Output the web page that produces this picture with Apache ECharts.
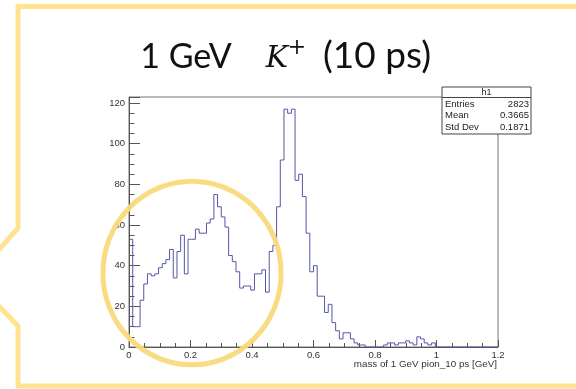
<!DOCTYPE html>
<html>
<head>
<meta charset="utf-8">
<script src="https://cdn.jsdelivr.net/npm/echarts@6/dist/echarts.min.js"></script>
<style>
html,body{margin:0;padding:0;background:#fff;}
#c{width:576px;height:389px;}
</style>
</head>
<body>
<div id="c"></div>
<script>
// ---- data ----
const binLow = 0;
const binWidth = 0.012;
const counts = [
  53, 10, 10, 23, 31, 36, 35, 36, 39, 41,
  43, 48, 34, 47, 55, 36, 53, 53, 58, 56,
  56, 61, 63, 75, 69, 64, 59, 45, 42, 37,
  29, 30, 30, 28, 36, 36, 38, 27, 47, 50,
  69, 92, 117, 115, 117, 82, 85, 74, 56, 37,
  40, 25, 25, 17, 21, 12, 8, 4, 7, 7,
  4, 2, 1, 1, 0, 0, 0, 0, 0, 1,
  2, 2, 1, 2, 2, 3, 2, 1, 5, 4,
  2, 1, 2, 0, 0, 0, 0, 0, 0, 0,
  0, 0, 0, 0, 0, 0, 0, 0, 0, 0
];
const xTicks = [0, 0.2, 0.4, 0.6, 0.8, 1, 1.2];
const yTicks = [0, 20, 40, 60, 80, 100, 120];
const statsLabels = ['Entries', 'Mean', 'Std Dev'];
const statsValues = ['2823', '0.3665', '0.1871'];
const histName = 'h1';
const xTitle = 'mass of 1 GeV pion_10 ps [GeV]';
const titleParts = ['1 GeV', 'K', '+', '(10 ps)'];

// ---- chart ----
const histData = counts.map((c, i) => [binLow + i * binWidth, c]);
histData.push([binLow + counts.length * binWidth, counts[counts.length - 1]]);

const chart = echarts.init(document.getElementById('c'), null, {renderer: 'canvas'});
const axisFont = 'Liberation Sans, Arial, sans-serif';
const yellowFrame = '#FFE391';
const yellowCircle = '#F9D97A';

const statsGraphics = [];
const bx = 442, by = 87, bw = 89, bh = 47;
statsGraphics.push({type: 'rect', shape: {x: bx, y: by, width: bw, height: bh},
  style: {fill: '#fff', stroke: '#444', lineWidth: 1}, z: 50});
statsGraphics.push({type: 'line', shape: {x1: bx, y1: by + 10.5, x2: bx + bw, y2: by + 10.5},
  style: {stroke: '#444', lineWidth: 1}, z: 51});
statsGraphics.push({type: 'text', x: bx + bw / 2, y: by + 5.5, z: 52,
  style: {text: histName, font: '9px ' + axisFont, fill: '#222', textAlign: 'center', textVerticalAlign: 'middle'}});
statsLabels.forEach((lab, i) => {
  const ty = by + 17 + i * 11.5;
  statsGraphics.push({type: 'text', x: bx + 3, y: ty, z: 52,
    style: {text: lab, font: '9.5px ' + axisFont, fill: '#222', textAlign: 'left', textVerticalAlign: 'middle'}});
  statsGraphics.push({type: 'text', x: bx + bw - 2, y: ty, z: 52,
    style: {text: statsValues[i], font: '9.5px ' + axisFont, fill: '#222', textAlign: 'right', textVerticalAlign: 'middle'}});
});

const sansTitle = 'Lato, "Open Sans", sans-serif';
const serifTitle = '"DejaVu Serif", "Liberation Serif", serif';

const option = {
  animation: false,
  backgroundColor: '#ffffff',
  grid: {left: 129, right: 78, top: 97, bottom: 42, containLabel: false, outerBoundsMode: 'none',
    show: true, borderColor: '#777', borderWidth: 1, backgroundColor: 'transparent'},
  xAxis: {
    type: 'value', min: xTicks[0], max: xTicks[xTicks.length - 1], interval: 0.2,
    axisLine: {show: true, onZero: false, lineStyle: {color: '#555', width: 1}},
    axisTick: {show: true, inside: true, length: 7, lineStyle: {color: '#555'}},
    minorTick: {show: true, splitNumber: 4, length: 4, lineStyle: {color: '#555'}},
    splitLine: {show: false},
    axisLabel: {color: '#333', fontSize: 9.5, fontFamily: axisFont, margin: 3,
      formatter: v => String(parseFloat(v.toFixed(2)))}
  },
  yAxis: {
    type: 'value', min: 0, max: 123, interval: 20,
    axisLine: {show: true, onZero: false, lineStyle: {color: '#555', width: 1}},
    axisTick: {show: true, inside: true, length: 11, lineStyle: {color: '#555'}},
    minorTick: {show: true, splitNumber: 4, length: 5.5, lineStyle: {color: '#555'}},
    splitLine: {show: false},
    axisLabel: {color: '#333', fontSize: 9.5, fontFamily: axisFont, margin: 4, showMaxLabel: false,
      formatter: v => (yTicks.indexOf(v) >= 0 ? String(v) : '')}
  },
  series: [{
    type: 'line', step: 'end', data: histData, symbol: 'none',
    lineStyle: {color: '#5656a8', width: 1}, z: 5
  }],
  graphic: [
    // outer callout frame
    {type: 'polyline', shape: {points: [[600, 6.5], [18, 6.5], [18, 228], [-4, 253]]},
      style: {stroke: yellowFrame, lineWidth: 5, fill: null, lineJoin: 'round'}, z: 1},
    {type: 'polyline', shape: {points: [[-4, 303], [18, 326], [18, 386], [600, 386]]},
      style: {stroke: yellowFrame, lineWidth: 5, fill: null, lineJoin: 'round'}, z: 1},
    // x axis title
    {type: 'text', x: 497, y: 359, z: 10,
      style: {text: xTitle, font: '9.8px ' + axisFont, fill: '#333', textAlign: 'right', textVerticalAlign: 'top'}},
    // title pieces
    {type: 'text', x: 186, y: 74, z: 10,
      style: {text: titleParts[0], font: '34px ' + sansTitle, fill: '#111', textAlign: 'center', textVerticalAlign: 'bottom'}},
    {type: 'text', x: 277, y: 74, z: 10,
      style: {text: titleParts[1], font: 'italic 30px ' + serifTitle, fill: '#111', textAlign: 'center', textVerticalAlign: 'bottom'}},
    {type: 'text', x: 297, y: 59, z: 10,
      style: {text: titleParts[2], font: '22px ' + serifTitle, fill: '#111', textAlign: 'center', textVerticalAlign: 'bottom'}},
    {type: 'text', x: 377, y: 75, z: 10,
      style: {text: titleParts[3], font: '37px ' + sansTitle, fill: '#111', textAlign: 'center', textVerticalAlign: 'bottom'}},
    // highlight circle
    {type: 'circle', shape: {cx: 0, cy: 0, r: 90}, x: 192, y: 273, scaleX: 0.99, scaleY: 1.02,
      style: {stroke: yellowCircle, lineWidth: 5, fill: null, opacity: 0.95}, z: 40},
    ...statsGraphics
  ]
};
chart.setOption(option);
</script>
</body>
</html>
